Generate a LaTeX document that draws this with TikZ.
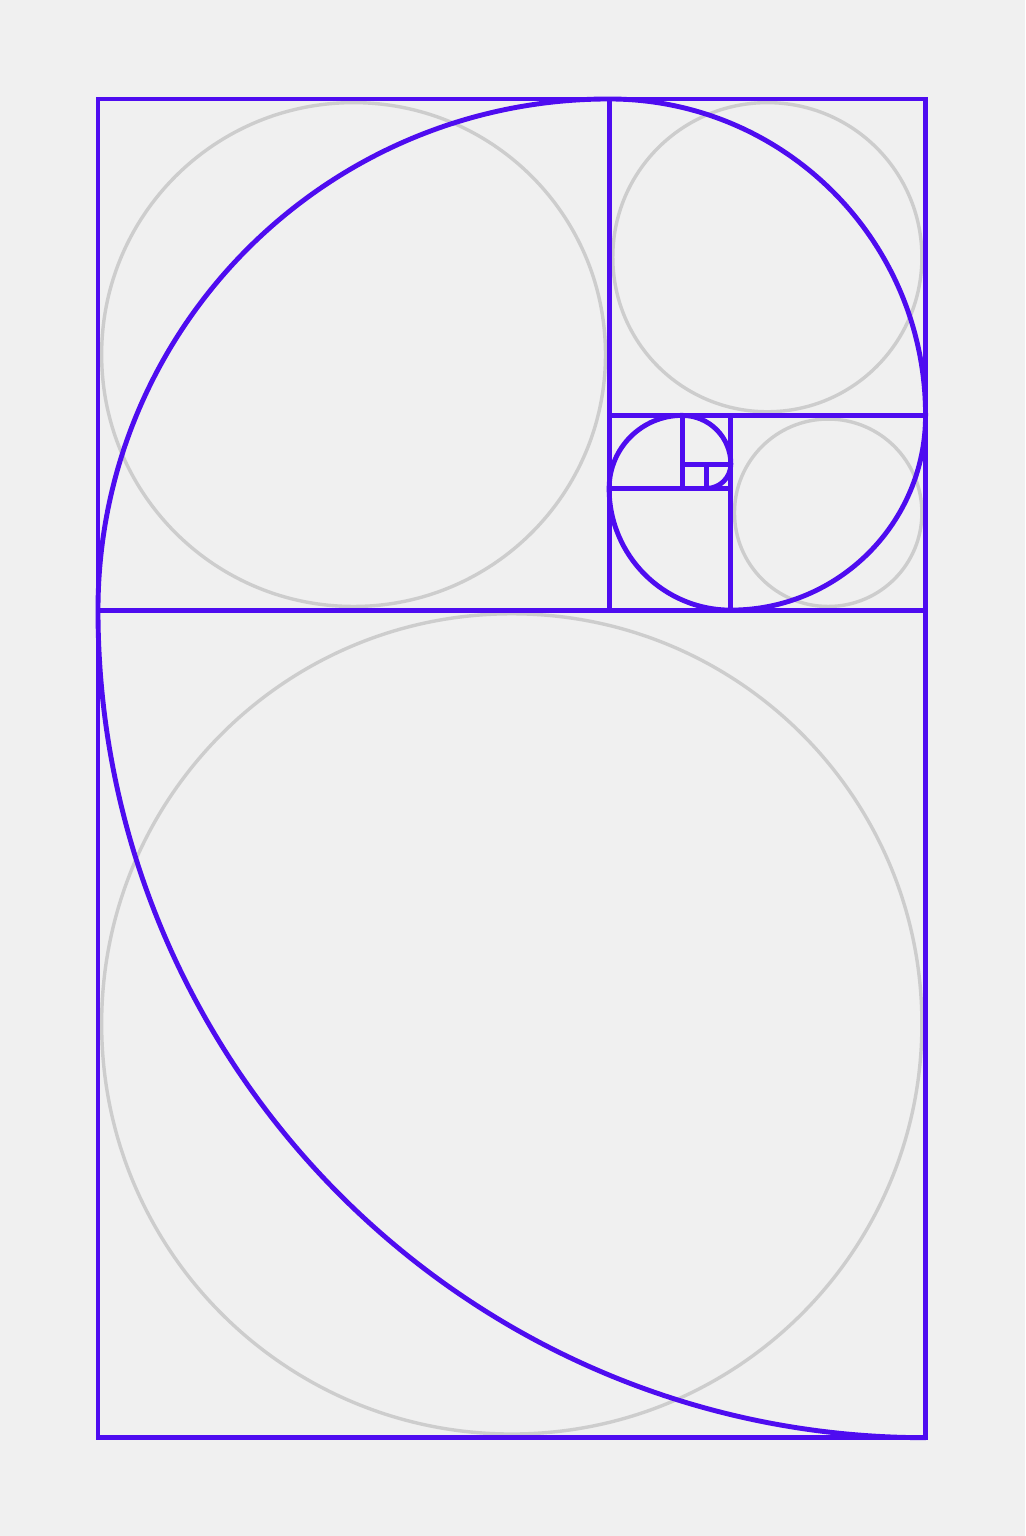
\documentclass[tikz,border=0pt]{standalone}
\usepackage{tikz}
\definecolor{bgc}{RGB}{240,240,240}
\definecolor{spiralblue}{RGB}{78,12,240}
\definecolor{circgray}{RGB}{205,205,205}
\begin{document}
\begin{tikzpicture}[x=12.17pt,y=12.17pt,
  frame/.style={draw=spiralblue,line width=2.45pt,line cap=rect},
  spiral/.style={draw=spiralblue,line width=2.45pt,line cap=round,line join=round},
  guide/.style={draw=circgray,line width=1.7pt}]
% page with margins
\fill[bgc] (-4.026,-4.039) rectangle (38.086,59.067);
\useasboundingbox (-4.026,-4.039) rectangle (38.086,59.067);
% inscribed guide circles
\draw[guide] (17,17) circle[radius=16.85];
\draw[guide] (10.5,44.5) circle[radius=10.35];
\draw[guide] (27.5,48.5) circle[radius=6.35];
\draw[guide] (30,38) circle[radius=3.85];
% Fibonacci squares
\draw[frame] (0,0) rectangle (34,55);
\draw[frame] (0,34) -- (34,34);
\draw[frame] (21,34) -- (21,55);
\draw[frame] (21,42) -- (34,42);
\draw[frame] (26,34) -- (26,42);
\draw[frame] (21,39) -- (26,39);
\draw[frame] (24,39) -- (24,42);
\draw[frame] (24,40) -- (26,40);
\draw[frame] (25,39) -- (25,40);
% golden spiral
\draw[spiral] (34,0) arc[start angle=270,end angle=180,radius=34]
  arc[start angle=180,end angle=90,radius=21]
  arc[start angle=90,end angle=0,radius=13]
  arc[start angle=0,end angle=-90,radius=8]
  arc[start angle=270,end angle=180,radius=5]
  arc[start angle=180,end angle=90,radius=3]
  arc[start angle=90,end angle=0,radius=2]
  arc[start angle=0,end angle=-90,radius=1];
\end{tikzpicture}
\end{document}
